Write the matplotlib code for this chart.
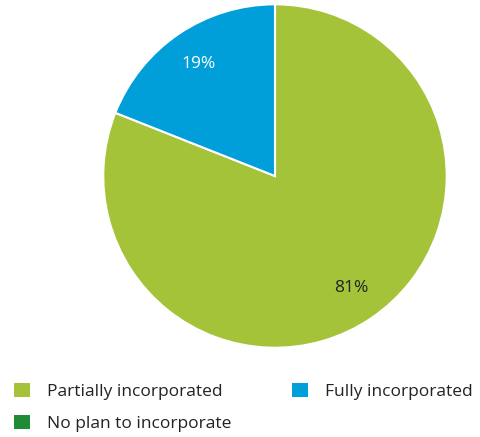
import matplotlib.pyplot as plt
from matplotlib.patches import Patch

labels = ['Partially incorporated', 'Fully incorporated', 'No plan to incorporate']
values = [81, 19, 0]
colors = ['#A5C339', '#009FDA', '#1E8B35']

plt.rcParams['font.family'] = ['Open Sans', 'DejaVu Sans']

fig = plt.figure(figsize=(4.8, 4.37), dpi=100)
ax = fig.add_axes([0.21875, 0.2082, 0.7083, 0.778])

wedges, texts, autotexts = ax.pie(
    values[:2], colors=colors[:2], startangle=90, counterclock=False,
    autopct='%d%%', pctdistance=0.79,
    wedgeprops=dict(edgecolor='white', linewidth=1.5),
    textprops=dict(fontsize=12.5))
autotexts[0].set_color('#222222')
autotexts[1].set_color('white')
ax.set_xlim(-0.99, 0.99)
ax.set_ylim(-0.99, 0.99)
ax.set_aspect('equal')

# legend: column-major order so Fully ends up top right
handles = [Patch(facecolor=colors[0]), Patch(facecolor=colors[2]), Patch(facecolor=colors[1])]
names = [labels[0], labels[2], labels[1]]
fig.legend(handles, names, ncol=2, loc='upper left', bbox_to_anchor=(0.015, 0.14),
           frameon=False, fontsize=12.5, labelcolor='#222222',
           handlelength=0.9, handleheight=0.9, handletextpad=1.0,
           columnspacing=3.5, labelspacing=0.85, borderaxespad=0)

fig.savefig('out.png', dpi=100)
